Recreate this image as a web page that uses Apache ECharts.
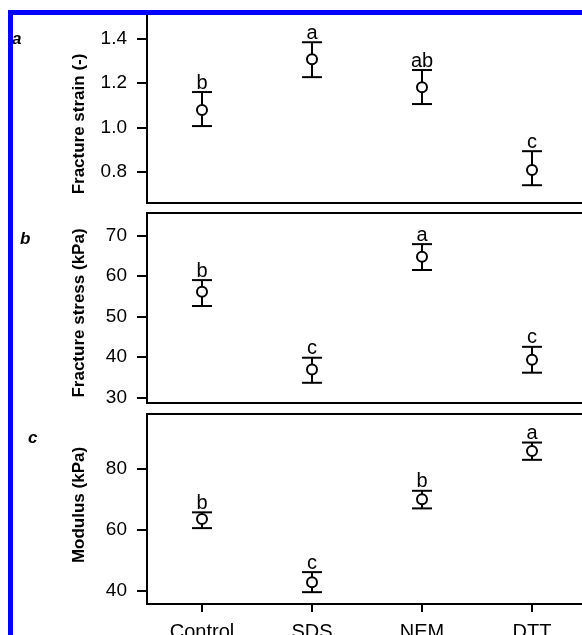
<!DOCTYPE html>
<html>
<head>
<meta charset="utf-8">
<script src="https://cdn.jsdelivr.net/npm/echarts@6/dist/echarts.min.js"></script>
<style>
  html, body { margin: 0; padding: 0; background: #fff; }
  #chart { width: 582px; height: 635px; }
</style>
</head>
<body>
<div id="chart"></div>
<script>
const categories = ['Control', 'SDS', 'NEM', 'DTT'];

// a - fracture strain
const strainMean = [1.078, 1.307, 1.181, 0.808];
const strainLow = [1.006, 1.226, 1.105, 0.740];
const strainHigh = [1.159, 1.383, 1.258, 0.893];
const strainLetters = ['b', 'a', 'ab', 'c'];
const strainTicks = [0.8, 1.0, 1.2, 1.4];

// b - fracture stress
const stressMean = [56.1, 36.9, 64.8, 39.3];
const stressLow = [52.6, 33.6, 61.5, 36.1];
const stressHigh = [59.0, 39.8, 67.9, 42.5];
const stressLetters = ['b', 'c', 'a', 'c'];
const stressTicks = [30, 40, 50, 60, 70];

// c - modulus
const modulusMean = [63.6, 42.8, 70.1, 86.0];
const modulusLow = [60.6, 39.5, 67.1, 83.1];
const modulusHigh = [65.8, 46.1, 72.9, 88.8];
const modulusLetters = ['b', 'c', 'b', 'a'];
const modulusTicks = [40, 60, 80];

const FONT = 'Liberation Sans, Arial, sans-serif';

const chart = echarts.init(document.getElementById('chart'));

function errorBars(idx, low, high, letters) {
    return {
        type: 'custom',
        xAxisIndex: idx,
        yAxisIndex: idx,
        z: 2,
        silent: true,
        data: low.map((v, i) => [i, v, high[i]]),
        renderItem: function (params, api) {
            const lo = api.coord([api.value(0), api.value(1)]);
            const hi = api.coord([api.value(0), api.value(2)]);
            const half = 10;
            const style = { stroke: '#000', lineWidth: 2 };
            return {
                type: 'group',
                children: [
                    { type: 'line', shape: { x1: hi[0], y1: hi[1], x2: lo[0], y2: lo[1] }, style: style },
                    { type: 'line', shape: { x1: hi[0] - half, y1: hi[1], x2: hi[0] + half, y2: hi[1] }, style: style },
                    { type: 'line', shape: { x1: lo[0] - half, y1: lo[1], x2: lo[0] + half, y2: lo[1] }, style: style },
                    {
                        type: 'text',
                        x: hi[0],
                        y: hi[1] + 1,
                        style: {
                            text: letters[params.dataIndex],
                            fill: '#000',
                            font: '20px ' + FONT,
                            align: 'center',
                            verticalAlign: 'bottom'
                        }
                    }
                ]
            };
        }
    };
}

function means(idx, data) {
    return {
        type: 'scatter',
        xAxisIndex: idx,
        yAxisIndex: idx,
        z: 3,
        symbol: 'circle',
        symbolSize: 10,
        itemStyle: { color: '#fff', borderColor: '#000', borderWidth: 2, opacity: 1 },
        data: data
    };
}

function yAxis(idx, name, min, max, ticks, digits, pad) {
    return {
        type: 'value',
        gridIndex: idx,
        min: min,
        max: max,
        name: name,
        nameLocation: 'middle',
        nameGap: 59,
        nameTextStyle: { fontFamily: FONT, fontSize: 17, fontWeight: 'bold', color: '#000', padding: pad },
        axisLine: { show: true, lineStyle: { color: '#000', width: 2 } },
        axisTick: { show: true, length: 10, lineStyle: { color: '#000', width: 2 }, customValues: ticks },
        axisLabel: {
            color: '#000', fontFamily: FONT, fontSize: 19, margin: 20, customValues: ticks,
            formatter: function (v) { return v.toFixed(digits); }
        },
        splitLine: { show: false }
    };
}

function xAxis(idx, showLabels) {
    return {
        type: 'category',
        gridIndex: idx,
        data: categories,
        boundaryGap: true,
        axisLine: { show: true, lineStyle: { color: '#000', width: 2 } },
        axisTick: { show: showLabels, alignWithLabel: true, length: 8, lineStyle: { color: '#000', width: 2 } },
        axisLabel: { show: showLabels, color: '#000', fontFamily: FONT, fontSize: 20, margin: 18 },
        splitLine: { show: false }
    };
}

const gridBase = {
    left: 147, width: 440, outerBoundsMode: 'none', containLabel: false,
    show: true, borderColor: '#000', borderWidth: 2, backgroundColor: '#fff'
};

chart.setOption({
    backgroundColor: '#fff',
    animation: false,
    grid: [
        Object.assign({ top: 14, height: 189 }, gridBase),
        Object.assign({ top: 213, height: 190 }, gridBase),
        Object.assign({ top: 414, height: 190 }, gridBase)
    ],
    xAxis: [xAxis(0, false), xAxis(1, false), xAxis(2, true)],
    yAxis: [
        yAxis(0, 'Fracture strain (-)', 0.66, 1.51, strainTicks, 1, [0, 31, 0, 0]),
        yAxis(1, 'Fracture stress (kPa)', 28.6, 75.6, stressTicks, 0, [0, 10, 0, 0]),
        yAxis(2, 'Modulus (kPa)', 35.6, 98.2, modulusTicks, 0, [0, 0, 0, 8])
    ],
    series: [
        errorBars(0, strainLow, strainHigh, strainLetters),
        means(0, strainMean),
        errorBars(1, stressLow, stressHigh, stressLetters),
        means(1, stressMean),
        errorBars(2, modulusLow, modulusHigh, modulusLetters),
        means(2, modulusMean)
    ],
    graphic: [
        { type: 'text', left: 12, top: 31, z: 10, style: { text: 'a', font: 'italic bold 17px ' + FONT, fill: '#000' } },
        { type: 'text', left: 20, top: 231, z: 10, style: { text: 'b', font: 'italic bold 17px ' + FONT, fill: '#000' } },
        { type: 'text', left: 28, top: 430, z: 10, style: { text: 'c', font: 'italic bold 17px ' + FONT, fill: '#000' } },
        {
            type: 'rect', z: 100, silent: true,
            shape: { x: 10.5, y: 12.5, width: 700, height: 700 },
            style: { fill: 'none', stroke: '#0000ff', lineWidth: 5 }
        }
    ]
});

window.addEventListener('resize', function () {
    chart.resize();
});
</script>
</body>
</html>
